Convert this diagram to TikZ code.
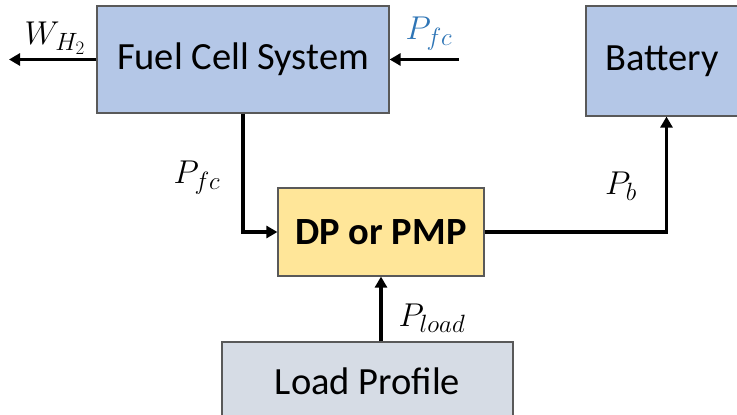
\RequirePackage{fix-cm}
\documentclass[tikz,border=0pt]{standalone}
\usepackage{fontspec}
\setmainfont{Carlito}
\usetikzlibrary{arrows.meta}
\DeclareMathSizes{33}{33}{25}{19}
\definecolor{boxblue}{HTML}{B4C7E7}
\definecolor{boxyellow}{HTML}{FFE699}
\definecolor{boxgrey}{HTML}{D6DCE5}
\definecolor{edgegrey}{HTML}{595959}
\definecolor{labelblue}{HTML}{2E75B6}
\begin{document}
\begin{tikzpicture}[x=1pt,y=-1pt,
  block/.style={draw=edgegrey,line width=1.2pt,rectangle,inner sep=0pt,
    font=\fontsize{38.5}{42}\selectfont},
  flow/.style={line width=3.6pt,-{Triangle[length=11pt,width=12pt]}},
  sig/.style={font=\fontsize{33}{36}\selectfont}]
\useasboundingbox (0,0) rectangle (737,415);
\fill[white] (0,0) rectangle (737,415);

% blocks
\node[block,fill=boxblue,minimum width=292pt,minimum height=107pt] (fc) at (243,59.5) {Fuel Cell System};
\node[block,fill=boxblue,minimum width=152pt,minimum height=110pt] (bat) at (662,61) {Battery};
\node[block,fill=boxyellow,minimum width=206pt,minimum height=88pt] (dp) at (381,232) {\bfseries DP or PMP};
\node[block,fill=boxgrey,minimum width=291pt,minimum height=78pt] (load) at (367.5,381) {Load Profile};

% free ends
\coordinate (wout) at (9,59.5);
\coordinate (pin) at (459,59.5);

% connectors
\draw[flow] (fc.west) -- (wout);
\draw[flow] (pin) -- (fc.east);
\draw[flow] (fc.south) -- (fc.south |- dp.west) -- (dp.west);
\draw[flow] (dp.east) -| ([xshift=4.5pt]bat.south);
\draw[flow] (dp.south |- load.north) -- (dp.south);

% signal labels
\node[sig] (lw) at (55,38) {$W_{H_2}$};
\node[sig,text=labelblue] (lpin) at (429,34) {$P_{fc}$};
\node[sig] (lpfc) at (197,178) {$P_{fc}$};
\node[sig] (lpb) at (621,186) {$P_{b}$};
\node[sig] (lpl) at (432,318) {$P_{load}$};
\end{tikzpicture}
\end{document}
